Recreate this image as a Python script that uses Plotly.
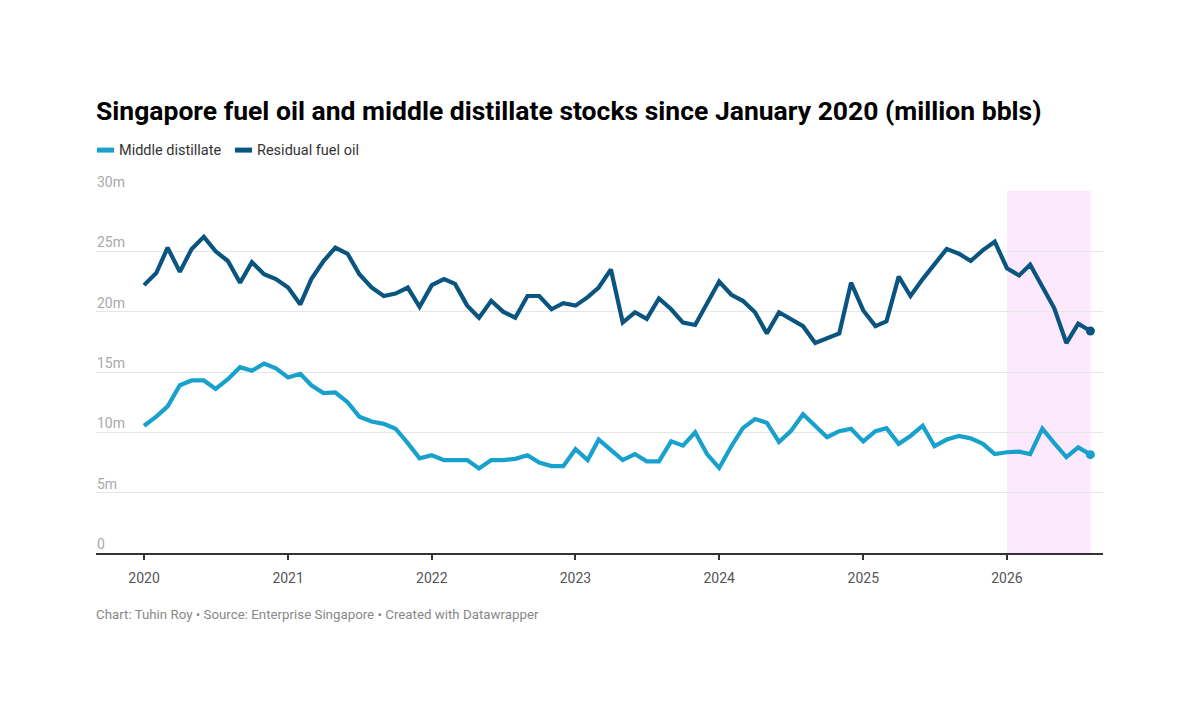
import pandas as pd
import plotly.graph_objects as go

# monthly stocks, million barrels, Jan 2020 - Aug 2026
dates = pd.date_range("2020-01-01", periods=80, freq="MS")

middle_distillate = [
    10.55, 11.3, 12.15, 13.9, 14.3, 14.3, 13.6, 14.4, 15.4, 15.1,
    15.7, 15.3, 14.55, 14.85, 13.9, 13.25, 13.3, 12.5, 11.3, 10.9,
    10.7, 10.3, 9.1, 7.85, 8.1, 7.7, 7.7, 7.7, 7.0, 7.7,
    7.7, 7.8, 8.1, 7.5, 7.2, 7.2, 8.6, 7.7, 9.4, 8.55,
    7.7, 8.2, 7.6, 7.6, 9.25, 8.9, 10.0, 8.2, 7.05, 8.85,
    10.35, 11.1, 10.8, 9.2, 10.1, 11.5, 10.55, 9.6, 10.1, 10.3,
    9.25, 10.1, 10.35, 9.05, 9.7, 10.55, 8.85, 9.4, 9.7, 9.5,
    9.05, 8.2, 8.35, 8.4, 8.2, 10.3, 9.1, 7.95, 8.75, 8.15,
]

residual_fuel_oil = [
    22.2, 23.2, 25.3, 23.3, 25.2, 26.2, 25.0, 24.2, 22.4, 24.1,
    23.1, 22.7, 22.0, 20.6, 22.7, 24.2, 25.3, 24.8, 23.1, 22.0,
    21.3, 21.5, 22.0, 20.4, 22.2, 22.7, 22.3, 20.5, 19.5, 20.9,
    20.0, 19.5, 21.3, 21.3, 20.2, 20.7, 20.5, 21.2, 22.0, 23.5,
    19.1, 19.95, 19.4, 21.1, 20.2, 19.1, 18.9, 20.7, 22.5, 21.4,
    20.9, 19.95, 18.2, 19.95, 19.4, 18.8, 17.4, 17.75, 18.2, 22.4,
    20.1, 18.8, 19.2, 22.9, 21.3, 22.7, 24.0, 25.2, 24.8, 24.2,
    25.1, 25.8, 23.6, 23.0, 23.9, 22.0, 20.3, 17.4, 19.0, 18.4,
]

y_ticks = [0, 5, 10, 15, 20, 25, 30]
y_tick_labels = ["0", "5m", "10m", "15m", "20m", "25m", "30m"]
x_ticks = ["2020-01-01", "2021-01-01", "2022-01-01", "2023-01-01",
           "2024-01-01", "2025-01-01", "2026-01-01"]
x_tick_labels = ["2020", "2021", "2022", "2023", "2024", "2025", "2026"]

series = [
    ("Middle distillate", middle_distillate, "#18a1cd"),
    ("Residual fuel oil", residual_fuel_oil, "#09557f"),
]

FONT = "Roboto"

fig = go.Figure()

# highlighted 2026 period
fig.add_shape(type="rect", xref="x", yref="paper",
              x0="2026-01-01", x1=dates[-1], y0=0, y1=1,
              fillcolor="#fde9fd", line_width=0, layer="below")

for name, vals, col in series:
    fig.add_trace(go.Scatter(x=dates, y=vals, name=name, mode="lines",
                             line=dict(color=col, width=4.2),
                             showlegend=False))
    fig.add_trace(go.Scatter(x=[dates[-1]], y=[vals[-1]], mode="markers",
                             marker=dict(color=col, size=9),
                             showlegend=False, hoverinfo="skip"))

# y tick labels sit on top of the gridlines, left aligned
for v, lab in zip(y_ticks, y_tick_labels):
    fig.add_annotation(x=0, xref="paper", y=v, yref="y", text=lab,
                       showarrow=False, xanchor="left", yanchor="bottom",
                       xshift=-1, yshift=-1,
                       font=dict(family=FONT, size=14, color="#a8a8a8"))

# custom legend
legend_x = [(0.001, 0.0225), (0.138, 0.1595)]
for (x0, xt), (name, vals, col) in zip(legend_x, series):
    fig.add_shape(type="line", xref="paper", yref="paper",
                  x0=x0, x1=x0 + 0.017, y0=1.113, y1=1.113,
                  line=dict(color=col, width=5))
    fig.add_annotation(x=xt, xref="paper", y=1.113, yref="paper", text=name,
                       showarrow=False, xanchor="left", yanchor="middle",
                       xshift=-2,
                       font=dict(family=FONT, size=14.5, color="#333333"))

fig.add_annotation(x=0, xref="paper", y=1.221, yref="paper",
                   text="<b>Singapore fuel oil and middle distillate stocks since January 2020 (million bbls)</b>",
                   showarrow=False, xanchor="left", yanchor="middle",
                   xshift=-2,
                   font=dict(family=FONT, size=26.5, color="#000000"))

fig.add_annotation(x=0, xref="paper", y=-0.171, yref="paper",
                   text="Chart: Tuhin Roy • Source: Enterprise Singapore • Created with Datawrapper",
                   showarrow=False, xanchor="left", yanchor="middle",
                   xshift=-2,
                   font=dict(family=FONT, size=13.3, color="#888888"))

fig.update_layout(
    width=1200, height=720,
    margin=dict(l=96, r=97, t=191, b=167),
    paper_bgcolor="white", plot_bgcolor="white",
    font=dict(family=FONT),
    hovermode="x unified",
)
fig.update_xaxes(
    range=["2019-09-01", "2026-09-02"],
    tickvals=x_ticks, ticktext=x_tick_labels,
    showgrid=False, zeroline=False,
    showline=True, linecolor="#333333", linewidth=1.5,
    ticks="outside", ticklen=5, tickcolor="#333333", tickwidth=1.5,
    tickfont=dict(family=FONT, size=14, color="#555555"),
    ticklabelstandoff=6,
)
fig.update_yaxes(
    range=[0, 30], tickvals=y_ticks, showticklabels=False,
    showgrid=True, gridcolor="#e6e6e6", gridwidth=1,
    zeroline=False,
)

# page body has a default 8px margin; drop it so the figure sits at 0,0
fig.write_html("out.html", config={"displayModeBar": False},
               post_script="document.body.style.margin='0';")
